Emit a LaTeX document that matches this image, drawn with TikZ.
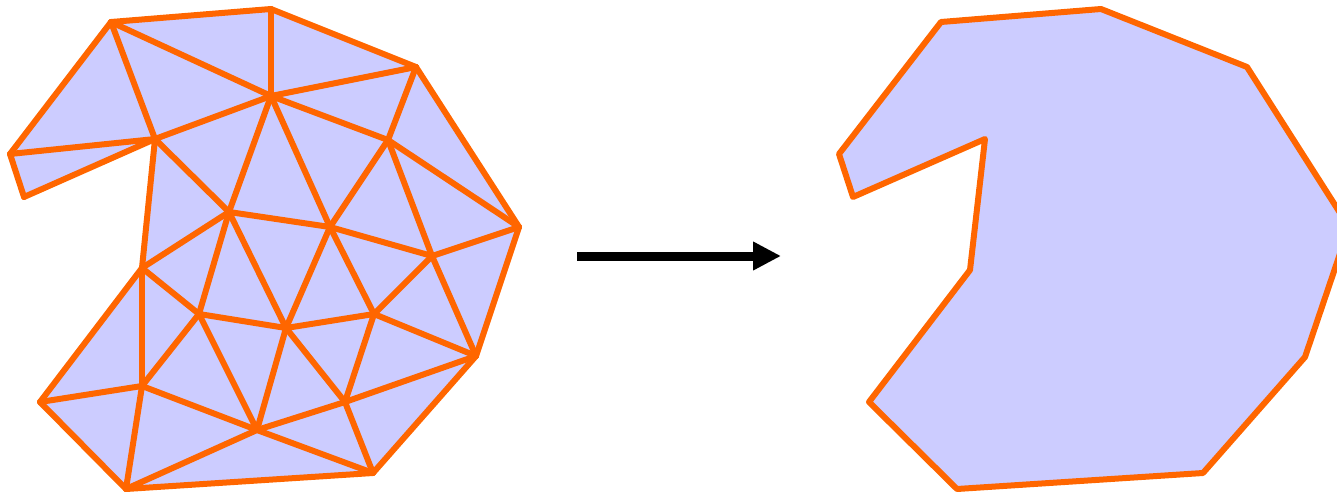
\documentclass[tikz,border=0pt]{standalone}
\usetikzlibrary{arrows.meta}
\definecolor{meshfill}{HTML}{CCCCFF}
\definecolor{meshline}{HTML}{FF6600}
\begin{document}
\begin{tikzpicture}[x=1pt,y=-1pt,
  edge/.style={draw=meshline,line width=6pt,line join=round,line cap=round},
  region/.style={fill=meshfill,draw=meshline,line width=6pt,line join=round}]
\useasboundingbox (0,0) rectangle (1337,492);
\clip (0,0) rectangle (1337,492);
% left mesh vertices
\coordinate (A) at (111,22);
\coordinate (B) at (271,9);
\coordinate (C) at (416,67);
\coordinate (D) at (519,227);
\coordinate (E) at (476,356);
\coordinate (F) at (373,473);
\coordinate (G) at (126,489);
\coordinate (H) at (40,402);
\coordinate (I) at (142,268);
\coordinate (J) at (155,139);
\coordinate (K) at (24,197);
\coordinate (L) at (10,154);
\coordinate (M) at (271,96);
\coordinate (N) at (388,140);
\coordinate (P) at (229,212);
\coordinate (Q) at (330,227);
\coordinate (R) at (432,256);
\coordinate (S) at (199,314);
\coordinate (T) at (286,328);
\coordinate (U) at (374,314);
\coordinate (V) at (142,386);
\coordinate (W) at (257,430);
\coordinate (X) at (345,402);
% left filled polygon
\path[fill=meshfill] (A)--(B)--(C)--(D)--(E)--(F)--(G)--(H)--(I)--(J)--(K)--(L)--cycle;
% edges
\foreach \a/\b in {A/B,B/C,C/D,D/E,E/F,F/G,G/H,H/I,I/J,J/K,K/L,L/A,
  A/J,A/M,B/M,L/J,J/M,M/C,M/N,C/N,N/D,J/P,M/P,M/Q,N/Q,N/R,D/R,
  P/Q,P/I,P/S,P/T,Q/T,Q/U,Q/R,R/U,R/E,I/S,I/V,S/V,S/T,S/W,T/W,T/X,T/U,
  U/X,U/E,X/E,X/W,X/F,W/F,W/G,V/W,V/G,V/H}
  \draw[edge] (\a) -- (\b);
% arrow
\coordinate (a1) at (577,256);
\coordinate (a2) at (781,256);
\draw[line width=9pt,-{Triangle[length=28pt,width=27pt]}] (a1) -- (a2);
% right polygon
\coordinate (A2) at (941,22);
\coordinate (B2) at (1101,9);
\coordinate (C2) at (1247,67);
\coordinate (D2) at (1349,227);
\coordinate (E2) at (1305,357);
\coordinate (F2) at (1203,473);
\coordinate (G2) at (957,489);
\coordinate (H2) at (869,402);
\coordinate (I2) at (970,270);
\coordinate (J2) at (985,139);
\coordinate (K2) at (853,197);
\coordinate (L2) at (839,154);
\draw[region] (A2)--(B2)--(C2)--(D2)--(E2)--(F2)--(G2)--(H2)--(I2)--(J2)--(K2)--(L2)--cycle;
\end{tikzpicture}
\end{document}
